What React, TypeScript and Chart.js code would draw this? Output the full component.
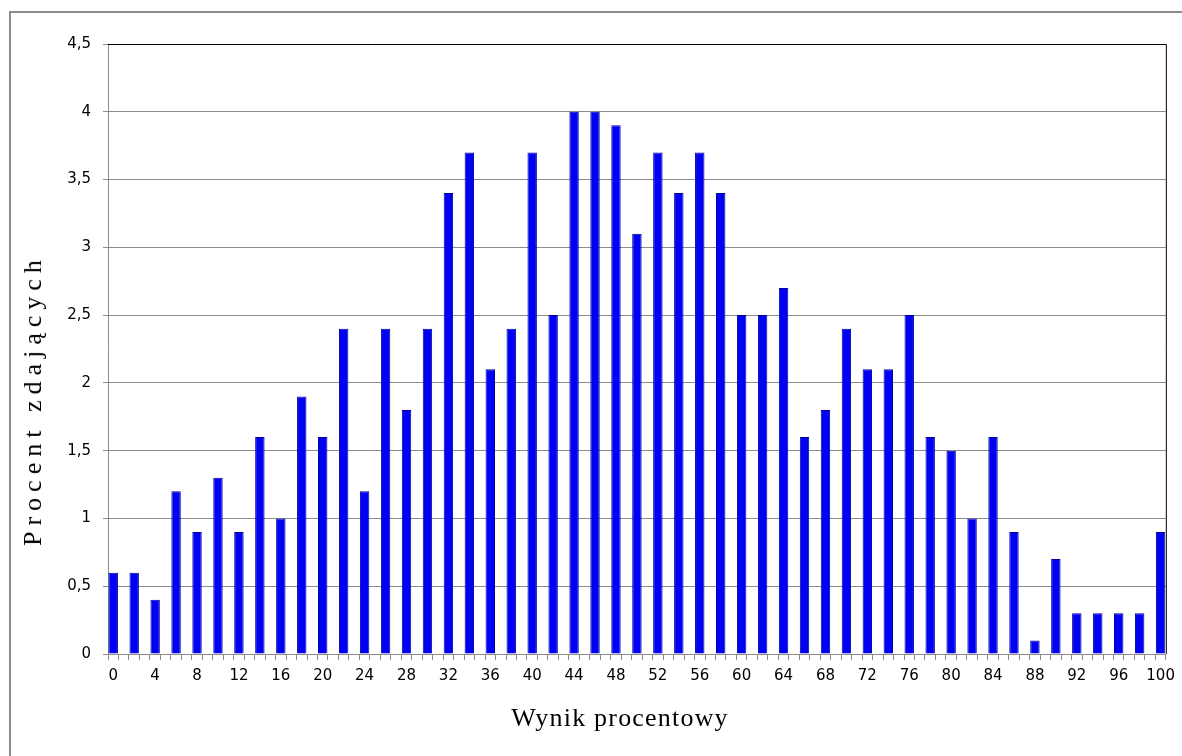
import React, { useEffect, useRef } from "react";
import { Chart, registerables } from "chart.js";

Chart.register(...registerables);

// Scores 0..100 (percent); only even scores carry data
const scores: number[] = Array.from({ length: 101 }, (_, i) => i);
const evenScores: number[] = [
  0, 2, 4, 6, 8, 10, 12, 14, 16, 18, 20, 22, 24, 26, 28, 30, 32, 34, 36, 38, 40, 42, 44, 46, 48, 50,
  52, 54, 56, 58, 60, 62, 64, 66, 68, 70, 72, 74, 76, 78, 80, 82, 84, 86, 88, 90, 92, 94, 96, 98, 100,
];
const percentPassing: number[] = [
  0.6, 0.6, 0.4, 1.2, 0.9, 1.3, 0.9, 1.6, 1.0, 1.9, 1.6, 2.4, 1.2, 2.4, 1.8, 2.4, 3.4, 3.7, 2.1, 2.4,
  3.7, 2.5, 4.0, 4.0, 3.9, 3.1, 3.7, 3.4, 3.7, 3.4, 2.5, 2.5, 2.7, 1.6, 1.8, 2.4, 2.1, 2.1, 2.5, 1.6,
  1.5, 1.0, 1.6, 0.9, 0.1, 0.7, 0.3, 0.3, 0.3, 0.3, 0.9,
];
const yTicks: number[] = [0, 0.5, 1, 1.5, 2, 2.5, 3, 3.5, 4, 4.5];
const xTitle = "Wynik procentowy";
const yTitle = "Procent zdających";

const W = 1182;
const H = 756;

export default function App() {
  const ref = useRef<HTMLCanvasElement | null>(null);

  useEffect(() => {
    if (!ref.current) return;
    const valueMap = new Map<number, number>();
    evenScores.forEach((s, i) => valueMap.set(s, percentPassing[i]));
    const data = scores.map((s) => (valueMap.has(s) ? (valueMap.get(s) as number) : null));

    const borderPlugin = {
      id: "plotBorder",
      afterDraw(chart: any) {
        const { ctx, chartArea } = chart;
        ctx.save();
        ctx.strokeStyle = "#000000";
        ctx.lineWidth = 1;
        ctx.beginPath();
        ctx.moveTo(chartArea.left, chartArea.top + 0.5);
        ctx.lineTo(chartArea.right + 0.5, chartArea.top + 0.5);
        ctx.lineTo(chartArea.right + 0.5, chartArea.bottom);
        ctx.stroke();
        ctx.restore();
      },
    };

    const chart = new Chart(ref.current, {
      type: "bar",
      data: {
        labels: scores.map(String),
        datasets: [
          {
            data,
            backgroundColor: "#0000f5",
            borderColor: "#0000a0",
            borderWidth: 1,
            barPercentage: 0.9,
            categoryPercentage: 1,
          },
        ],
      },
      options: {
        animation: false,
        responsive: false,
        maintainAspectRatio: false,
        layout: { padding: { top: 44, right: 16, left: 0, bottom: 0 } },
        plugins: { legend: { display: false }, tooltip: { enabled: false } },
        scales: {
          x: {
            offset: true,
            grid: {
              display: true,
              offset: true,
              drawOnChartArea: false,
              drawTicks: true,
              tickLength: 6,
              color: "#8c8c8c",
            },
            border: { display: true, color: "#8c8c8c" },
            ticks: {
              autoSkip: false,
              maxRotation: 0,
              minRotation: 0,
              padding: 7,
              color: "#000000",
              font: { family: "DejaVu Sans", size: 15 },
              callback: (_v: any, i: number) => (scores[i] % 4 === 0 ? String(scores[i]) : ""),
            },
            afterFit: (scale: any) => {
              scale.height = H - 654;
            },
          },
          y: {
            min: 0,
            max: 4.5,
            afterBuildTicks: (scale: any) => {
              scale.ticks = yTicks.map((v) => ({ value: v }));
            },
            grid: { color: "#8c8c8c", tickLength: 5, drawTicks: true },
            border: { display: true, color: "#8c8c8c" },
            ticks: {
              padding: 12,
              color: "#000000",
              font: { family: "DejaVu Sans", size: 15 },
              callback: (v: any) => String(v).replace(".", ","),
            },
            afterFit: (scale: any) => {
              scale.width = 108;
            },
          },
        },
      },
      plugins: [borderPlugin],
    });
    return () => chart.destroy();
  }, []);

  const titleFont: React.CSSProperties = {
    fontFamily: "'Liberation Serif', 'Times New Roman', serif",
    fontSize: 26,
    color: "#000000",
    whiteSpace: "nowrap",
    lineHeight: "30px",
  };

  return (
    <div style={{ position: "fixed", left: 0, top: 0, width: W, height: H, background: "#ffffff", overflow: "hidden" }}>
      <div
        style={{
          position: "absolute",
          left: 9,
          top: 11,
          width: W + 20,
          height: H + 20,
          borderLeft: "2px solid #8a8a8a",
          borderTop: "2px solid #8a8a8a",
        }}
      />
      <canvas ref={ref} width={W} height={H} style={{ position: "absolute", left: 0, top: 0 }} />
      <div
        style={{
          ...titleFont,
          position: "absolute",
          left: 620,
          top: 718,
          transform: "translate(-50%, -50%)",
          letterSpacing: "1.2px",
        }}
      >
        {xTitle}
      </div>
      <div
        style={{
          ...titleFont,
          position: "absolute",
          left: 33,
          top: 400,
          transform: "translate(-50%, -50%) rotate(-90deg)",
          letterSpacing: "6px",
        }}
      >
        {yTitle}
      </div>
    </div>
  );
}
